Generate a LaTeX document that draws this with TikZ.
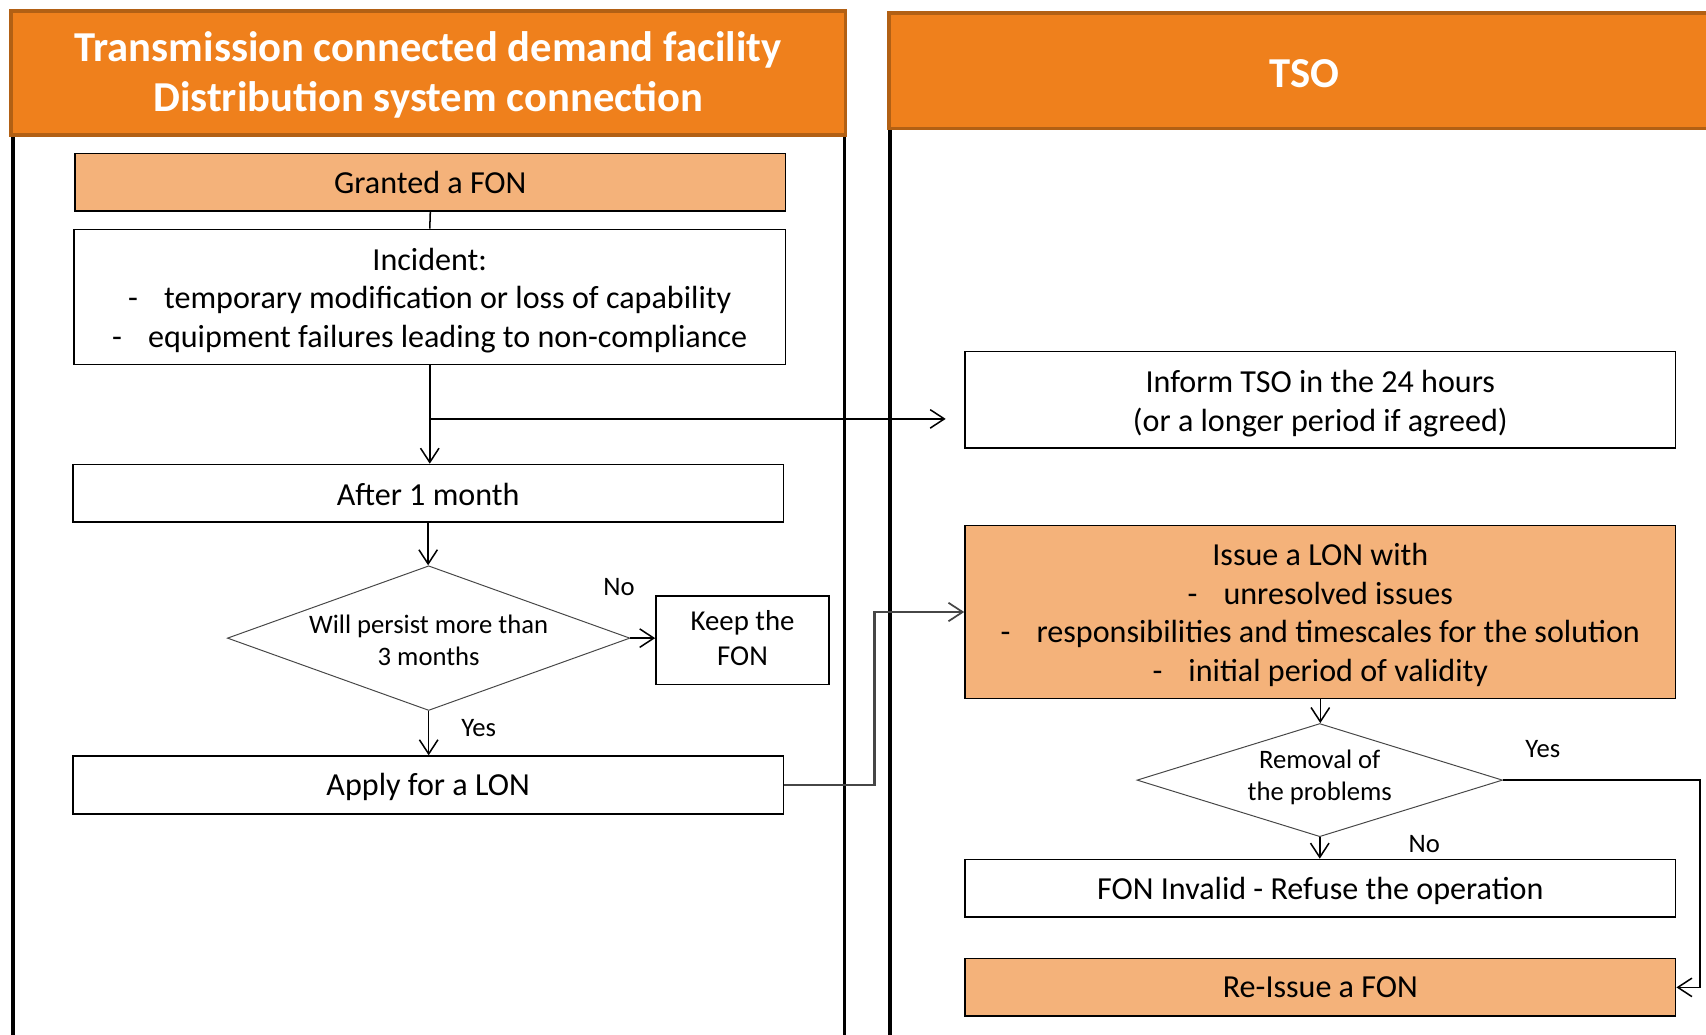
\documentclass[tikz,border=0pt]{standalone}
\usepackage{fontspec}
\setmainfont{Carlito}
\usetikzlibrary{shapes.geometric,arrows.meta,calc}
\definecolor{hdrfill}{RGB}{239,128,28}
\definecolor{hdrdraw}{RGB}{178,96,20}
\definecolor{litefill}{RGB}{244,178,122}
\definecolor{lnkgray}{RGB}{70,70,70}
\newcommand\fbody{\fontsize{29.5}{35.4}\selectfont}
\newcommand\fdia{\fontsize{24.5}{29.5}\selectfont}
\newcommand\fkeep{\fontsize{26.5}{33}\selectfont}
\newcommand\flab{\fontsize{24.5}{29}\selectfont}
\newcommand\fhead{\bfseries\fontsize{39.2}{46.5}\selectfont}
% add room above (#1) a first line / below (#1) a last line
\newcommand\padtop[2]{\raisebox{0pt}[\dimexpr\height+#1\relax]{#2}}
\newcommand\padbot[2]{\raisebox{0pt}[\height][\dimexpr\depth+#1\relax]{#2}}
\begin{document}
\begin{tikzpicture}[x=1pt,y=-1pt,
  box/.style={draw=black,line width=1.6pt,rectangle,inner sep=0pt,align=center,font=\fbody,fill=white},
  litebox/.style={box,fill=litefill},
  hdrbox/.style={draw=hdrdraw,line width=3pt,fill=hdrfill,rectangle,inner sep=0pt,align=center,font=\fhead,text=white},
  dia/.style={draw=lnkgray,line width=0.9pt,diamond,inner sep=-20pt,align=center,font=\fdia,fill=white},
  lane/.style={draw=black,line width=3pt},
  conn/.style={line width=1.4pt,draw=black},
  trunk/.style={line width=2.3pt,draw=black},
  arr/.style={conn,-{Straight Barb[length=13pt,width=17pt,line width=1.4pt]}},
  garr/.style={line width=2.2pt,draw=lnkgray,-{Straight Barb[length=13pt,width=17pt,line width=1.6pt]}},
  lab/.style={font=\flab,inner sep=0pt}
]
\useasboundingbox (0,0) rectangle (1568,951);
\clip (0,0) rectangle (1568,951);
% lanes
\draw[lane] (12,124) -- (12,960);
\draw[lane] (776,124) -- (776,960);
\draw[lane] (818,118) -- (818,960);
% headers
\node[hdrbox,minimum width=767pt,minimum height=114pt] (h1) at (393.5,67) {\padtop{4pt}{Transmission connected demand facility}\\Distribution system connection};
\node[hdrbox,minimum width=764pt,minimum height=106pt] (h2) at (1199,65) {\padtop{5pt}{TSO}};
% left lane boxes
\node[litebox,minimum width=653pt,minimum height=53pt] (granted) at (395.5,167.5) {Granted a FON};
\node[box,minimum width=654pt,minimum height=124pt] (incident) at (395,273) {\padtop{6pt}{Incident:}\\-\hspace{24pt}temporary modification or loss of capability\\-\hspace{24pt}equipment failures leading to non-compliance};
\node[box,minimum width=653pt,minimum height=53pt] (after) at (393.5,453.5) {\padtop{2pt}{After 1 month}};
\node[dia,minimum width=370pt,minimum height=133pt,aspect=2.78] (d1) at (394,586.5) {\padtop{4pt}{Will persist more than}\\3 months};
\node[box,font=\fkeep,minimum width=159pt,minimum height=81pt] (keep) at (682.5,588.5) {Keep the\\\padbot{4pt}{FON}};
\node[box,minimum width=653pt,minimum height=53pt] (apply) at (393.5,721.5) {\padtop{3pt}{Apply for a LON}};
% right lane boxes
\node[box,minimum width=653pt,minimum height=89pt] (inform) at (1213.5,367.5) {\padtop{7pt}{Inform TSO in the 24 hours}\\(or a longer period if agreed)};
\node[litebox,minimum width=653pt,minimum height=159pt] (issue) at (1213.5,562.5) {\padtop{5pt}{Issue a LON with}\\-\hspace{24pt}unresolved issues\\-\hspace{24pt}responsibilities and timescales for the solution\\-\hspace{24pt}initial period of validity};
\node[dia,minimum width=336pt,minimum height=104pt,aspect=3.23] (d2) at (1213,717) {Removal of\\\padbot{5pt}{the problems}};
\node[box,minimum width=653pt,minimum height=53pt] (invalid) at (1213.5,816.5) {\padtop{4pt}{FON Invalid - Refuse the operation}};
\node[litebox,minimum width=653pt,minimum height=53pt] (reissue) at (1213.5,907.5) {Re-Issue a FON};
% labels
\node[lab] (lno1) at (569,540) {No};
\node[lab] (lyes1) at (440,669) {Yes};
\node[lab] (lyes2) at (1418,688) {Yes};
\node[lab] (lno2) at (1309,776) {No};
% connectors
\coordinate (br) at (395,385);
\draw[conn] (granted.south) -- (incident.north);
\draw[trunk] (incident.south) -- (br);
\draw[arr] (br) -- (br |- after.north);
\draw[arr,shorten >=17pt] (br) -- (br -| inform.west);
\draw[arr] (after.south) -- (after.south |- d1.north);
\draw[arr] (d1.east) -- (d1.east -| keep.west);
\draw[arr] (d1.south) -- (d1.south |- apply.north);
\draw[garr] (apply.east) -- ++(83,0) |- (issue.west);
\draw[arr] (issue.south) -- (issue.south |- d2.north);
\draw[arr] (d2.south) -- (d2.south |- invalid.north);
\draw[arr] (d2.east) -- ++(181,0) |- (reissue.east);
\end{tikzpicture}
\end{document}
